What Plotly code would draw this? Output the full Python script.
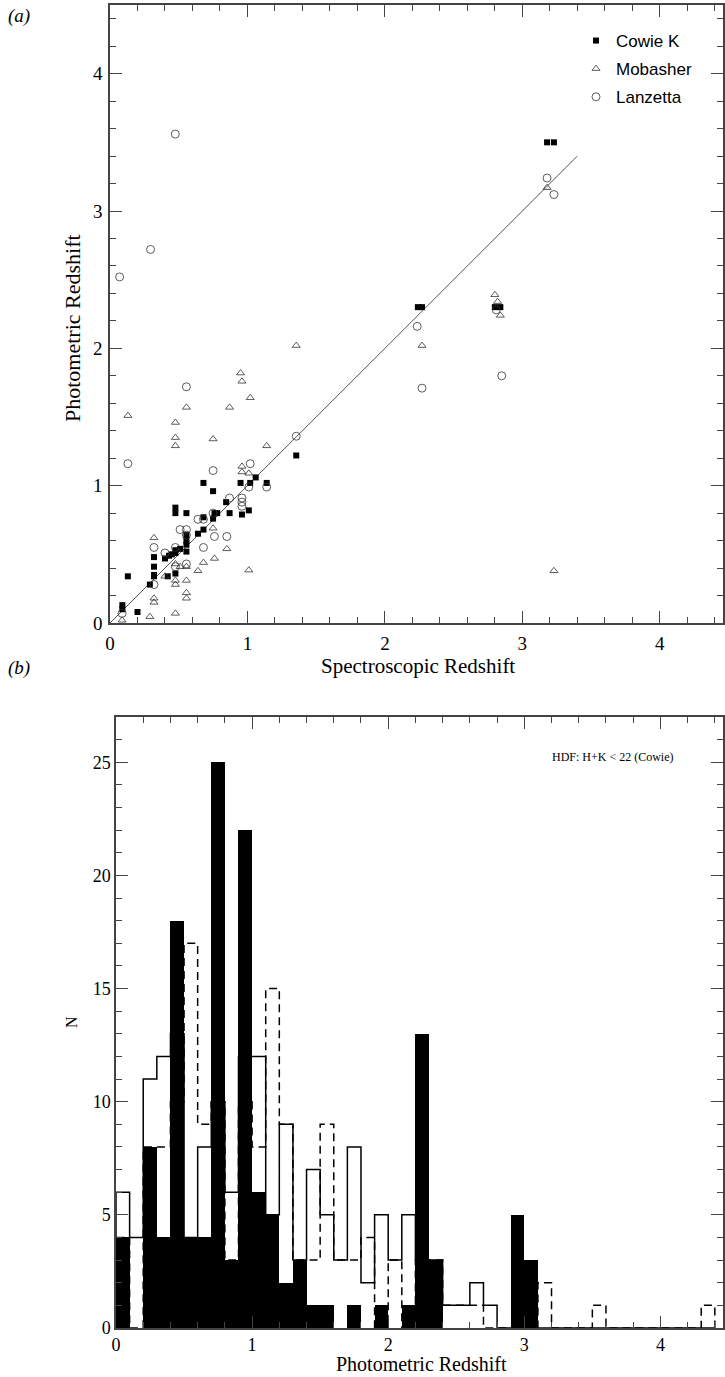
import plotly.graph_objects as go

# ---------------- Panel (a) data: spectroscopic vs photometric redshift ----------------
cowie_spec = [0.09, 0.09, 0.13, 0.20, 0.29, 0.32, 0.32, 0.32, 0.32, 0.40, 0.42, 0.43, 0.45,
              0.476, 0.476, 0.476, 0.476, 0.476, 0.51, 0.556, 0.556, 0.556, 0.556, 0.556,
              0.64, 0.68, 0.68, 0.68, 0.75, 0.75, 0.76, 0.78, 0.845, 0.87, 0.95, 0.96, 1.01,
              1.02, 1.06, 1.14, 1.355, 2.24, 2.27, 2.80, 2.84, 3.18, 3.23]
cowie_phot = [0.13, 0.10, 0.34, 0.08, 0.28, 0.35, 0.41, 0.48, 0.34, 0.47, 0.34, 0.49, 0.50,
              0.51, 0.53, 0.36, 0.84, 0.80, 0.54, 0.52, 0.57, 0.60, 0.64, 0.80,
              0.65, 0.68, 0.77, 1.02, 0.96, 0.76, 0.80, 0.80, 0.88, 0.80, 1.02, 0.79, 0.82,
              1.02, 1.06, 1.02, 1.22, 2.30, 2.30, 2.30, 2.30, 3.50, 3.50]

mob_spec = [0.088, 0.13, 0.29, 0.32, 0.32, 0.32, 0.40, 0.476, 0.476, 0.476, 0.476, 0.476,
            0.476, 0.476, 0.51, 0.556, 0.556, 0.556, 0.556, 0.556, 0.64, 0.68, 0.75, 0.75,
            0.76, 0.85, 0.87, 0.95, 0.96, 0.96, 0.96, 1.01, 1.01, 1.02, 1.14, 1.355, 2.27,
            2.80, 2.82, 2.84, 3.18, 3.23]
mob_phot = [0.02, 1.51, 0.046, 0.18, 0.15, 0.62, 0.34, 0.07, 0.28, 0.31, 0.43, 1.29,
            1.35, 1.46, 0.41, 0.41, 0.31, 0.22, 0.18, 1.57, 0.38, 0.44, 0.69, 1.34,
            0.47, 0.54, 1.57, 1.82, 1.76, 1.14, 1.10, 1.09, 0.385, 1.64, 1.29, 2.02, 2.02,
            2.39, 2.34, 2.24, 3.17, 0.38]

lanz_spec = [0.07, 0.088, 0.13, 0.295, 0.32, 0.32, 0.40, 0.475, 0.476, 0.476, 0.51, 0.556,
             0.556, 0.556, 0.556, 0.64, 0.68, 0.68, 0.75, 0.75, 0.76, 0.85, 0.87, 0.96, 0.96,
             0.96, 1.01, 1.02, 1.14, 1.355, 2.235, 2.27, 2.81, 2.85, 3.18, 3.23]
lanz_phot = [2.52, 0.07, 1.16, 2.72, 0.28, 0.55, 0.51, 3.56, 0.41, 0.55, 0.68, 0.68,
             0.64, 0.43, 1.72, 0.755, 0.755, 0.55, 0.80, 1.11, 0.63, 0.63, 0.91, 0.91, 0.88,
             0.85, 0.99, 1.16, 0.99, 1.36, 2.16, 1.71, 2.28, 1.80, 3.24, 3.12]

fit_line = [0.0, 3.4]

# ---------------- Panel (b) data: histograms, bins of 0.1 from 0 to 4.4 ----------------
bin_edges = [round(0.1 * i, 1) for i in range(45)]
n_filled = [4, 0, 8, 4, 18, 4, 4, 25, 3, 22, 6, 5, 2, 3, 1, 1, 0, 1, 0, 1, 0, 1, 13, 3,
            0, 0, 0, 0, 0, 5, 3, 0, 0, 0, 0, 0, 0, 0, 0, 0, 0, 0, 0, 0]
n_solid = [6, 4, 11, 12, 13, 4, 8, 10, 6, 12, 12, 5, 9, 3, 7, 5, 3, 8, 2, 5, 3, 5, 3, 3,
           1, 1, 2, 1, 0, 0, 0, 0, 0, 0, 0, 0, 0, 0, 0, 0, 0, 0, 0, 0]
n_dashed = [4, 0, 8, 8, 10, 17, 9, 10, 3, 10, 8, 15, 9, 3, 3, 9, 3, 3, 4, 0, 3, 0, 3, 3,
            1, 1, 1, 0, 0, 0, 0, 2, 0, 0, 0, 1, 0, 0, 0, 0, 0, 0, 0, 1]

W, H = 725, 1377
def px_x(p):
    return p / W
def px_y(p):
    return 1 - p / H

fig = go.Figure()

# ---- panel (a)
fig.add_trace(go.Scatter(x=fit_line, y=fit_line, mode='lines',
                         line=dict(color='#555', width=1), showlegend=False,
                         xaxis='x', yaxis='y', hoverinfo='skip'))
fig.add_trace(go.Scatter(x=cowie_spec, y=cowie_phot, mode='markers', name='Cowie K',
                         legendgroup='a',
                         marker=dict(symbol='square', size=6, color='black'),
                         xaxis='x', yaxis='y'))
fig.add_trace(go.Scatter(x=mob_spec, y=mob_phot, mode='markers', name='Mobasher',
                         legendgroup='b',
                         marker=dict(symbol='triangle-up-open', size=7, color='#333',
                                     line=dict(width=0.8)),
                         xaxis='x', yaxis='y'))
fig.add_trace(go.Scatter(x=lanz_spec, y=lanz_phot, mode='markers', name='Lanzetta',
                         legendgroup='c',
                         marker=dict(symbol='circle-open', size=8, color='#333',
                                     line=dict(width=0.8)),
                         xaxis='x', yaxis='y'))

# ---- panel (b)
def step(vals):
    xs = [0.0] + bin_edges[:-1] + [bin_edges[-1], bin_edges[-1]]
    ys = [0] + vals + [vals[-1], 0]
    return xs, ys

sx, sy = step(n_solid)
fig.add_trace(go.Scatter(x=sx, y=sy, mode='lines', line=dict(color='black', width=1.5, shape='hv'),
                         showlegend=False, xaxis='x2', yaxis='y2', hoverinfo='skip'))
dx, dy = step(n_dashed)
fig.add_trace(go.Scatter(x=dx, y=dy, mode='lines',
                         line=dict(color='black', width=1.5, shape='hv', dash='8px,5px'),
                         showlegend=False, xaxis='x2', yaxis='y2', hoverinfo='skip'))
centers = [round(e + 0.05, 2) for e in bin_edges[:-1]]
fig.add_trace(go.Bar(x=centers, y=n_filled, width=0.1, marker=dict(color='black', line=dict(width=0)),
                     showlegend=False, xaxis='x2', yaxis='y2'))

serif = 'Liberation Serif'
axis_common = dict(showline=True, linecolor='#444', linewidth=1.5, mirror='allticks',
                   ticks='inside', tickcolor='#444', tickwidth=1.2, ticklen=12,
                   showgrid=False, zeroline=False)
tf19 = dict(family=serif, size=19, color='black')
tf18 = dict(family=serif, size=18, color='black')
minor_x = dict(ticks='inside', dtick=0.2, ticklen=6, tickcolor='#444', tickwidth=1)

fig.update_layout(
    width=W, height=H, margin=dict(l=0, r=0, t=0, b=0, autoexpand=False),
    plot_bgcolor='white', paper_bgcolor='white', barmode='overlay', bargap=0,
    showlegend=True,
    legend=dict(x=px_x(576), y=px_y(23), xanchor='left', yanchor='top',
                font=dict(family='Liberation Sans', size=17, color='black'),
                bgcolor='rgba(0,0,0,0)', tracegroupgap=3, itemwidth=30),
    xaxis=dict(domain=[px_x(110), px_x(723)], range=[0, 4.46], anchor='y',
               tickvals=[0, 1, 2, 3, 4], minor=minor_x, ticklabelstandoff=2,
               tickfont=tf19, **axis_common),
    yaxis=dict(domain=[px_y(623), px_y(5)], range=[0, 4.5], anchor='x',
               tickvals=[0, 1, 2, 3, 4], minor=minor_x, ticklabelstandoff=2,
               tickfont=tf19, **axis_common),
    xaxis2=dict(domain=[px_x(116), px_x(723)], range=[0, 4.46], anchor='y2',
                tickvals=[0, 1, 2, 3, 4], minor=minor_x, ticklabelstandoff=0,
                tickfont=tf18, **axis_common),
    yaxis2=dict(domain=[px_y(1328), px_y(717)], range=[0, 27], anchor='x2',
                tickvals=[0, 5, 10, 15, 20, 25],
                minor=dict(ticks='inside', dtick=1, ticklen=6, tickcolor='#444', tickwidth=1),
                tickfont=tf18, **axis_common),
)

ann = [
    dict(text='<i>(a)</i>', x=px_x(6), y=px_y(16), xanchor='left', yanchor='middle',
         font=dict(family=serif, size=19)),
    dict(text='<i>(b)</i>', x=px_x(6), y=px_y(668), xanchor='left', yanchor='middle',
         font=dict(family=serif, size=19)),
    dict(text='Photometric Redshift', x=px_x(72), y=px_y(328), textangle=-90,
         xanchor='center', yanchor='middle', font=dict(family=serif, size=22)),
    dict(text='Spectroscopic Redshift', x=px_x(418), y=px_y(666),
         xanchor='center', yanchor='middle', font=dict(family=serif, size=21)),
    dict(text='N', x=px_x(71), y=px_y(1022), textangle=-90,
         xanchor='center', yanchor='middle', font=dict(family=serif, size=16)),
    dict(text='Photometric Redshift', x=px_x(421), y=px_y(1377),
         xanchor='center', yanchor='bottom', font=dict(family=serif, size=20)),
    dict(text='HDF: H+K &lt; 22 (Cowie)', x=px_x(613), y=px_y(757),
         xanchor='center', yanchor='middle', font=dict(family=serif, size=12)),
]
for a in ann:
    a.update(xref='paper', yref='paper', showarrow=False)
    a['font']['color'] = 'black'
fig.update_layout(annotations=ann)

fig.write_html('out.html', config={'displayModeBar': False},
               post_script="document.body.style.margin='0px';")
